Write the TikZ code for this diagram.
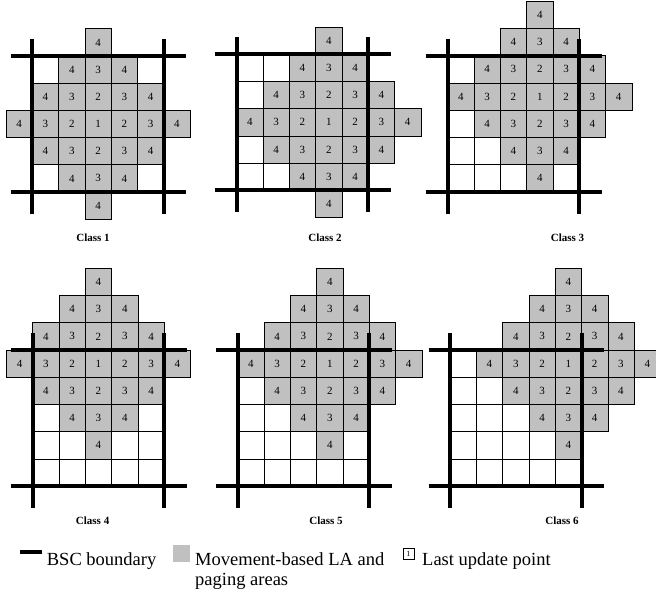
\documentclass[tikz,border=0pt]{standalone}
\usepackage{fontspec}
\setmainfont{Liberation Serif}
\definecolor{cellgray}{RGB}{192,192,192}
\tikzset{
  cellw/.style={draw=black, line width=0.6pt, fill=white, minimum width=26.3pt,
                minimum height=27.2pt, inner sep=0pt, outer sep=0pt},
  cellg/.style={cellw, fill=cellgray, font=\fontsize{11}{11}\selectfont},
  bsc/.style={line width=4pt, black},
  clslab/.style={font=\bfseries\fontsize{11}{13}\selectfont, inner sep=0pt},
  legtxt/.style={font=\fontsize{18.5}{20}\selectfont, inner sep=0pt, anchor=base west},
}
% #1 panel name, #2 left edge of the BSC box, #3 top edge of the BSC box,
% #4 column and #5 row of the last update cell inside the box
\newcommand\lapanel[5]{%
  \foreach \i in {0,...,4}{\foreach \j in {0,...,4}{
    \node[cellw] (#1-w\i\j) at ({#2+(\i+0.5)*26.3}, {#3+(\j+0.5)*27.2}) {};
  }}
  \foreach \dx in {-3,...,3}{\foreach \dy in {-3,...,3}{
    \pgfmathtruncatemacro\dist{abs(\dx)+abs(\dy)}
    \ifnum\dist<4
      \pgfmathtruncatemacro\lab{\dist+1}
      \node[cellg] (#1-g\dx\dy) at ({#2+(#4+\dx+0.5)*26.3}, {#3+(#5+\dy+0.5)*27.2}) {\lab};
    \fi
  }}
  \draw[bsc] ({#2-21.5}, #3) -- ({#2+131.5+22.5}, #3);
  \draw[bsc] ({#2-21.5}, {#3+136}) -- ({#2+131.5+22.5}, {#3+136});
  \draw[bsc] (#2, {#3-17}) -- (#2, {#3+136+22});
  \draw[bsc] ({#2+131.5}, {#3-17}) -- ({#2+131.5}, {#3+136+22});
}
\begin{document}
\begin{tikzpicture}[x=1pt, y=-1pt]
  \useasboundingbox (0,0) rectangle (656,593);
  \clip (0,0) rectangle (656,593);

  \lapanel{ca}{32.3}{56}{2}{2}
  \lapanel{cb}{236.7}{54.3}{3}{2}
  \lapanel{cc}{447.7}{55.7}{3}{1}
  \lapanel{cd}{32.7}{350}{2}{0}
  \lapanel{ce}{237.7}{350}{3}{0}
  \lapanel{cf}{450}{350}{4}{0}

  \node[clslab] (la) at (93,237.5) {Class 1};
  \node[clslab] (lb) at (325,237.5) {Class 2};
  \node[clslab] (lc) at (567.5,237.5) {Class 3};
  \node[clslab] (ld) at (92.6,521) {Class 4};
  \node[clslab] (le) at (326,521) {Class 5};
  \node[clslab] (lf) at (562,521) {Class 6};

  % legend
  \coordinate (kl) at (20,551.7);
  \coordinate (kr) at (41.7,551.7);
  \draw[bsc] (kl) -- (kr);
  \node[legtxt] (t1) at (46.7,565) {BSC boundary};
  \node[fill=cellgray, minimum size=16.7pt, inner sep=0pt] (gsq) at (181.6,553.3) {};
  \node[legtxt] (t2) at (195,565) {Movement-based LA and};
  \node[legtxt] (t3) at (195,585) {paging areas};
  \node[draw=black, line width=0.6pt, minimum size=11pt, inner sep=0pt,
        font=\fontsize{8}{8}\selectfont] (lup) at (408.3,554.2) {1};
  \node[legtxt] (t4) at (422,565) {Last update point};
\end{tikzpicture}
\end{document}
